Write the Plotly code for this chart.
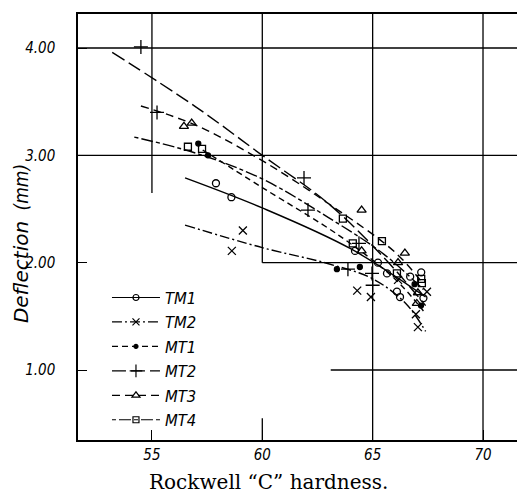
import plotly.graph_objects as go

# ---- data ----
tm1_x = [57.9, 58.6, 64.2, 65.24, 65.65, 66.1, 66.24, 66.7, 67.2, 67.3]
tm1_y = [2.74, 2.61, 2.11, 2.00, 1.90, 1.73, 1.68, 1.87, 1.91, 1.67]
tm2_x = [58.62, 59.12, 64.3, 64.92, 66.15, 67.46, 66.96, 67.05]
tm2_y = [2.11, 2.30, 1.74, 1.68, 1.84, 1.73, 1.52, 1.40]
mt1_x = [57.1, 57.54, 63.38, 64.42, 66.9, 67.19]
mt1_y = [3.11, 3.00, 1.94, 1.96, 1.80, 1.60]
mt2_x = [54.5, 55.23, 61.89, 62.07, 64.38, 63.88, 64.97, 65.0]
mt2_y = [4.01, 3.40, 2.79, 2.49, 2.18, 1.94, 1.90, 1.79]
mt3_x = [56.45, 56.8, 64.5, 64.5, 66.46, 66.15, 67.0, 67.05]
mt3_y = [3.27, 3.30, 2.49, 2.11, 2.09, 2.00, 1.62, 1.72]
mt4_x = [56.63, 57.27, 63.65, 64.1, 65.42, 66.1, 67.2, 67.23]
mt4_y = [3.08, 3.06, 2.41, 2.18, 2.20, 1.90, 1.85, 1.81]

# fitted curves
tm1_fx = [56.5, 60, 64, 67.4]
tm1_fy = [2.79, 2.51, 2.13, 1.68]
tm2_fx = [56.5, 60, 63, 65, 66.5, 67.4]
tm2_fy = [2.35, 2.14, 1.99, 1.85, 1.62, 1.36]
mt1_fx = [57.3, 60, 63.5, 66, 67.3]
mt1_fy = [3.05, 2.70, 2.25, 1.85, 1.55]
mt2_fx = [53.2, 57, 60, 63, 65.5, 67.4]
mt2_fy = [3.96, 3.45, 3.00, 2.55, 2.05, 1.60]
mt3_fx = [54.5, 57, 60, 63, 66, 67.3]
mt3_fy = [3.46, 3.28, 2.95, 2.55, 2.10, 1.80]
mt4_fx = [54.2, 57, 60, 63, 65.5, 67.3]
mt4_fy = [3.17, 3.02, 2.78, 2.42, 2.08, 1.75]

x_ticks = [55, 60, 65, 70]
y_ticks = [1.0, 2.0, 3.0, 4.0]
y_tick_text = ["1.00", "2.00", "3.00", "4.00"]

series = [
    ("TM1", tm1_x, tm1_y, tm1_fx, tm1_fy, "circle-open", 7, "solid"),
    ("TM2", tm2_x, tm2_y, tm2_fx, tm2_fy, "x-thin-open", 8, "10px,3px,2px,3px"),
    ("MT1", mt1_x, mt1_y, mt1_fx, mt1_fy, "circle", 5, "6px,4px"),
    ("MT2", mt2_x, mt2_y, mt2_fx, mt2_fy, "cross-thin-open", 10, "14px,5px"),
    ("MT3", mt3_x, mt3_y, mt3_fx, mt3_fy, "triangle-up-open", 8, "8px,5px"),
    ("MT4", mt4_x, mt4_y, mt4_fx, mt4_fy, "square-open", 7, "4px,3px,12px,3px"),
]

fig = go.Figure()
for name, x, y, fx, fy, sym, sz, dash in series:
    fig.add_trace(go.Scatter(x=fx, y=fy, mode="lines", showlegend=False,
                             line=dict(color="black", width=1.4, dash=dash, shape="spline"),
                             hoverinfo="skip"))
    fig.add_trace(go.Scatter(x=x, y=y, mode="markers", showlegend=False,
                             marker=dict(symbol=sym, size=sz, color="black",
                                         line=dict(color="black", width=1.3))))
    fig.add_trace(go.Scatter(x=[None], y=[None], mode="lines+markers", name=name,
                             line=dict(color="black", width=1.2, dash=dash),
                             marker=dict(symbol=sym, size=sz - 1, color="black",
                                         line=dict(color="black", width=1.2))))

# partial grid lines as in the original print
grid = [
    (55, 55, 2.65, 4.317), (60, 60, 2.0, 4.317), (65, 65, 0.348, 4.317), (70, 70, 0.348, 4.317),
    (60, 60, 0.348, 0.55),
    (51.65, 71.54, 4.0, 4.0), (51.65, 71.54, 3.0, 3.0), (60, 71.54, 2.0, 2.0), (63.1, 71.54, 1.0, 1.0),
]
shapes = [dict(type="line", xref="x", yref="y", x0=a, x1=b, y0=c, y1=d,
               line=dict(color="black", width=1.3), layer="below") for a, b, c, d in grid]

narrow = "Liberation Sans Narrow, DejaVu Sans Condensed, Liberation Sans"
tick_font = dict(family=narrow, size=15, color="black", style="italic")

fig.update_layout(
    width=517, height=495,
    margin=dict(l=78, r=0, t=14, b=55),
    paper_bgcolor="white", plot_bgcolor="white",
    shapes=shapes,
    showlegend=True,
    legend=dict(x=0.066, y=0.375, xanchor="left", yanchor="top",
                bgcolor="rgba(0,0,0,0)", borderwidth=0,
                font=dict(family=narrow, size=16.5, color="black", style="italic"),
                itemwidth=48, tracegroupgap=0),
    xaxis=dict(range=[51.65, 71.54], tickvals=x_ticks, ticks="inside", ticklen=10,
               tickcolor="black", showgrid=False, zeroline=False, showline=True,
               linecolor="black", linewidth=1.5, mirror=True, tickfont=tick_font),
    yaxis=dict(range=[0.348, 4.317], tickvals=y_ticks, ticktext=y_tick_text,
               ticks="inside", ticklen=9, tickcolor="black", showgrid=False,
               zeroline=False, showline=True, linecolor="black", linewidth=1.5,
               tickfont=tick_font, ticklabelstandoff=18),
    annotations=[
        dict(text="Deflection", textangle=-90, xref="paper", yref="paper",
             x=-0.13, y=0.394, xanchor="center", yanchor="middle", showarrow=False,
             font=dict(family="DejaVu Sans, Liberation Sans", size=20, color="black",
                       style="italic")),
        dict(text="(mm)", textangle=-90, xref="paper", yref="paper",
             x=-0.13, y=0.595, xanchor="center", yanchor="middle", showarrow=False,
             font=dict(family=narrow, size=19, color="black", style="italic")),
        dict(text="Rockwell “C” hardness.", xref="paper", yref="paper",
             x=0.435, y=-0.098, xanchor="center", yanchor="middle", showarrow=False,
             font=dict(family="DejaVu Serif, Liberation Serif", size=20, color="black")),
    ],
)

fig.write_html("out.html", config={"displayModeBar": False},
               post_script="document.body.style.margin='0px';")
